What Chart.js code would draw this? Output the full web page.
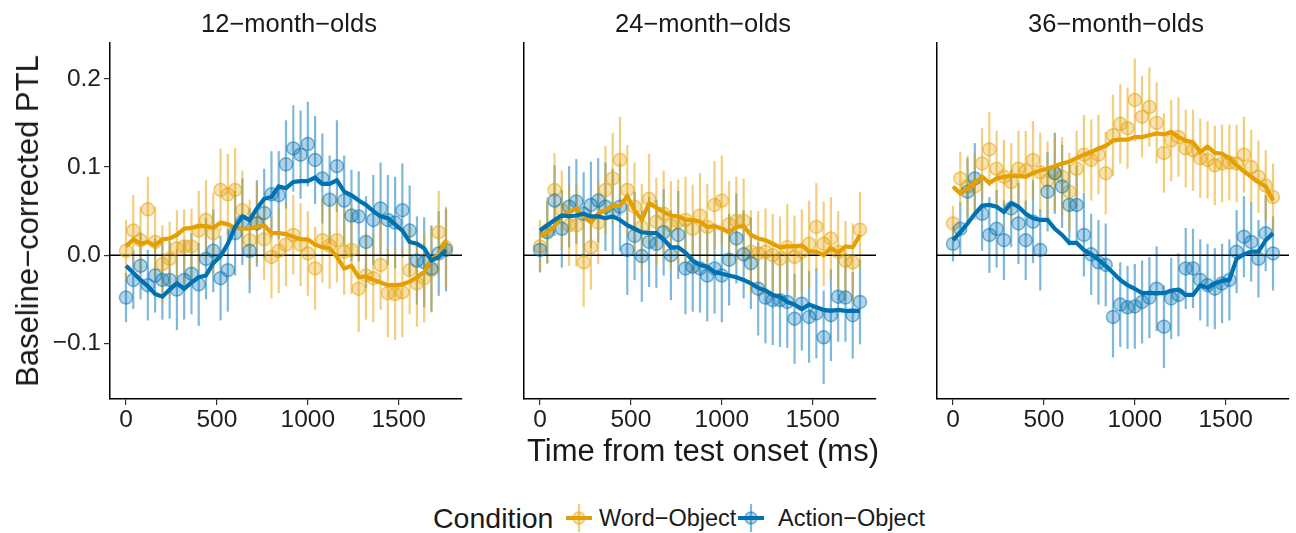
<!DOCTYPE html>
<html>
<head>
<meta charset="utf-8">
<script src="https://cdn.jsdelivr.net/npm/chart.js@4.4.1/dist/chart.umd.min.js"></script>
<style>
  body {
    margin: 0;
    background: #fff;
    width: 1296px;
    height: 533px;
    position: relative;
    overflow: hidden;
    font-family: "Liberation Sans", Arial, Helvetica, sans-serif;
    color: #1a1a1a;
  }
  canvas.panel { position: absolute; top: 0; }
  .strip {
    position: absolute; top: 8px; line-height: 30px;
    font-size: 25.5px; transform: translateX(-50%); white-space: nowrap;
  }
  .xtitle {
    position: absolute; left: 703px; top: 433px; line-height: 36px;
    font-size: 31px; transform: translateX(-50%); white-space: nowrap;
  }
  .ytitle {
    position: absolute; left: 28px; top: 221px; line-height: 36px;
    font-size: 31px; white-space: nowrap;
    transform: translate(-50%, -50%) rotate(-90deg);
  }
  .legend-title { position: absolute; left: 433px; top: 501px; font-size: 28.5px; line-height: 34px; }
  .legend-text { position: absolute; top: 503px; font-size: 23.5px; line-height: 30px; white-space: nowrap; }
  .legend-key { position: absolute; top: 503px; }
</style>
</head>
<body>

<canvas id="p12" class="panel" width="470" height="440" style="left:0px"></canvas>
<canvas id="p24" class="panel" width="470" height="440" style="left:414px"></canvas>
<canvas id="p36" class="panel" width="470" height="440" style="left:827px"></canvas>

<div class="strip" style="left:289px">12−month−olds</div>
<div class="strip" style="left:703px">24−month−olds</div>
<div class="strip" style="left:1116px">36−month−olds</div>

<div class="ytitle">Baseline−corrected PTL</div>
<div class="xtitle">Time from test onset (ms)</div>

<div class="legend-title">Condition</div>
<svg class="legend-key" style="left:566px" width="26" height="30">
  <line x1="13" y1="1" x2="13" y2="29" stroke="rgba(230,159,0,0.5)" stroke-width="2.2"/>
  <circle cx="13" cy="15" r="6" fill="rgba(230,159,0,0.3)" stroke="rgba(230,159,0,0.5)" stroke-width="1.5"/>
  <line x1="0" y1="15" x2="26" y2="15" stroke="#E69F00" stroke-width="4"/>
</svg>
<div class="legend-text" style="left:599px">Word−Object</div>
<svg class="legend-key" style="left:738px" width="26" height="30">
  <line x1="13" y1="1" x2="13" y2="29" stroke="rgba(0,114,178,0.5)" stroke-width="2.2"/>
  <circle cx="13" cy="15" r="6" fill="rgba(0,114,178,0.3)" stroke="rgba(0,114,178,0.5)" stroke-width="1.5"/>
  <line x1="0" y1="15" x2="26" y2="15" stroke="#0072B2" stroke-width="4"/>
</svg>
<div class="legend-text" style="left:778px">Action−Object</div>

<script>
// time bins (ms)
const times = [0, 40, 80, 120, 160, 200, 240, 280, 320, 360, 400, 440, 480, 520, 560,
  600, 640, 680, 720, 760, 800, 840, 880, 920, 960, 1000, 1040, 1080, 1120, 1160,
  1200, 1240, 1280, 1320, 1360, 1400, 1440, 1480, 1520, 1560, 1600, 1640, 1680, 1720, 1760];

const xTicks = [0, 500, 1000, 1500];
const yTicks = [-0.1, 0.0, 0.1, 0.2];

//
// ===== 12-MONTH-OLDS =====
//
const word12 = [0.005, 0.028, 0.017, 0.052, 0.015, -0.010, -0.004, 0.008, 0.010, 0.010,
  0.028, 0.040, 0.025, 0.074, 0.069, 0.074, 0.051, 0.017, 0.037, 0.018,
  -0.002, 0.005, 0.012, 0.023, 0.012, 0.002, -0.015, 0.017, 0.011, 0.017,
  0.004, 0.006, -0.038, -0.023, -0.026, -0.011, -0.043, -0.044, -0.042, -0.017,
  -0.032, -0.026, -0.017, 0.026, 0.009];
const word12Err = [0.035, 0.040, 0.038, 0.037, 0.040, 0.044, 0.042, 0.043, 0.042, 0.043,
  0.045, 0.045, 0.046, 0.047, 0.046, 0.048, 0.045, 0.046, 0.045, 0.046,
  0.047, 0.048, 0.047, 0.045, 0.047, 0.048, 0.047, 0.048, 0.049, 0.048,
  0.049, 0.050, 0.049, 0.050, 0.050, 0.051, 0.050, 0.052, 0.051, 0.050,
  0.049, 0.050, 0.048, 0.047, 0.046];
const action12 = [-0.048, -0.028, -0.012, -0.034, -0.023, -0.028, -0.028, -0.039, -0.028, -0.021,
  -0.033, -0.004, 0.005, -0.026, -0.017, 0.025, 0.038, 0.005, 0.036, 0.048,
  0.069, 0.068, 0.103, 0.121, 0.114, 0.126, 0.108, 0.087, 0.063, 0.101,
  0.062, 0.045, 0.044, 0.015, 0.040, 0.053, 0.040, 0.037, 0.051, 0.028,
  -0.006, -0.008, -0.015, 0.002, 0.006];
const action12Err = [0.028, 0.033, 0.038, 0.040, 0.042, 0.045, 0.044, 0.046, 0.045, 0.046,
  0.047, 0.046, 0.047, 0.048, 0.047, 0.048, 0.049, 0.048, 0.049, 0.050,
  0.049, 0.050, 0.050, 0.049, 0.050, 0.048, 0.050, 0.051, 0.050, 0.052,
  0.051, 0.052, 0.051, 0.052, 0.051, 0.052, 0.051, 0.052, 0.053, 0.051,
  0.050, 0.051, 0.049, 0.048, 0.047];
const wordSmooth12 = [0.010, 0.018, 0.013, 0.015, 0.011, 0.018, 0.019, 0.023, 0.030, 0.031,
  0.033, 0.033, 0.031, 0.037, 0.035, 0.031, 0.030, 0.030, 0.032, 0.034,
  0.025, 0.025, 0.024, 0.021, 0.018, 0.018, 0.012, 0.009, 0.008, -0.002,
  -0.015, -0.012, -0.025, -0.024, -0.028, -0.031, -0.034, -0.034, -0.033, -0.030,
  -0.025, -0.019, -0.004, 0.000, 0.017];
const actionSmooth12 = [-0.012, -0.020, -0.028, -0.035, -0.044, -0.047, -0.039, -0.032, -0.038, -0.031,
  -0.025, -0.023, -0.009, -0.001, 0.013, 0.032, 0.044, 0.040, 0.053, 0.064,
  0.066, 0.078, 0.076, 0.083, 0.084, 0.084, 0.088, 0.081, 0.081, 0.085,
  0.072, 0.068, 0.062, 0.057, 0.050, 0.044, 0.042, 0.035, 0.028, 0.015,
  0.013, 0.008, -0.006, -0.002, 0.006];

//
// ===== 24-MONTH-OLDS =====
//
const word24 = [0.010, 0.028, 0.074, 0.051, 0.034, 0.034, -0.008, 0.009, 0.037, 0.074,
  0.087, 0.108, 0.074, 0.055, 0.032, 0.064, 0.038, 0.047, 0.034, 0.038,
  0.040, 0.030, 0.045, 0.032, 0.057, 0.062, 0.035, 0.039, 0.039, 0.004,
  0.002, 0.004, 0.000, -0.004, 0.009, -0.002, 0.004, 0.013, 0.032, 0.013,
  0.019, 0.004, -0.006, -0.008, 0.029];
const word24Err = [0.030, 0.038, 0.042, 0.045, 0.046, 0.047, 0.051, 0.048, 0.047, 0.050,
  0.052, 0.049, 0.051, 0.050, 0.049, 0.051, 0.050, 0.049, 0.050, 0.048,
  0.049, 0.050, 0.048, 0.049, 0.050, 0.051, 0.049, 0.050, 0.048, 0.047,
  0.048, 0.049, 0.047, 0.048, 0.049, 0.047, 0.048, 0.049, 0.050, 0.048,
  0.047, 0.046, 0.045, 0.044, 0.043];
const action24 = [0.006, 0.026, 0.062, 0.030, 0.055, 0.061, 0.047, 0.057, 0.062, 0.055,
  0.049, 0.055, 0.006, 0.022, -0.001, 0.015, 0.013, 0.026, 0.000, 0.023,
  -0.015, -0.013, -0.015, -0.023, -0.015, -0.023, -0.005, 0.019, 0.001, -0.009,
  -0.038, -0.048, -0.051, -0.051, -0.053, -0.072, -0.055, -0.070, -0.066, -0.093,
  -0.068, -0.047, -0.048, -0.068, -0.053];
const action24Err = [0.025, 0.035, 0.040, 0.044, 0.046, 0.048, 0.047, 0.049, 0.048, 0.050,
  0.049, 0.050, 0.051, 0.050, 0.052, 0.051, 0.050, 0.049, 0.051, 0.050,
  0.052, 0.051, 0.050, 0.052, 0.051, 0.053, 0.052, 0.051, 0.050, 0.052,
  0.053, 0.052, 0.051, 0.053, 0.052, 0.051, 0.053, 0.052, 0.051, 0.053,
  0.052, 0.051, 0.050, 0.049, 0.048];
const wordSmooth24 = [0.022, 0.026, 0.033, 0.044, 0.049, 0.053, 0.044, 0.037, 0.047, 0.051,
  0.056, 0.056, 0.067, 0.051, 0.040, 0.059, 0.054, 0.049, 0.045, 0.044,
  0.040, 0.040, 0.038, 0.032, 0.033, 0.030, 0.026, 0.032, 0.033, 0.023,
  0.019, 0.017, 0.013, 0.009, 0.010, 0.010, 0.011, 0.004, 0.004, 0.000,
  0.008, 0.003, 0.010, 0.009, 0.023];
const actionSmooth24 = [0.028, 0.034, 0.040, 0.045, 0.044, 0.045, 0.047, 0.044, 0.044, 0.042,
  0.044, 0.040, 0.034, 0.030, 0.026, 0.025, 0.025, 0.018, 0.009, 0.009,
  0.003, -0.006, -0.011, -0.013, -0.019, -0.021, -0.023, -0.025, -0.028, -0.032,
  -0.037, -0.040, -0.045, -0.047, -0.053, -0.056, -0.061, -0.056, -0.059, -0.062,
  -0.063, -0.062, -0.063, -0.063, -0.063];

//
// ===== 36-MONTH-OLDS =====
//
const word36 = [0.036, 0.087, 0.078, 0.078, 0.104, 0.120, 0.098, 0.089, 0.083, 0.098,
  0.096, 0.108, 0.094, 0.085, 0.093, 0.089, 0.072, 0.098, 0.114, 0.108,
  0.114, 0.093, 0.136, 0.149, 0.144, 0.176, 0.157, 0.168, 0.150, 0.116,
  0.130, 0.134, 0.121, 0.119, 0.110, 0.108, 0.102, 0.104, 0.105, 0.104,
  0.114, 0.100, 0.089, 0.079, 0.066];
const word36Err = [0.020, 0.030, 0.035, 0.038, 0.040, 0.042, 0.043, 0.042, 0.044, 0.043,
  0.045, 0.044, 0.045, 0.044, 0.043, 0.045, 0.044, 0.043, 0.045, 0.046,
  0.045, 0.047, 0.046, 0.045, 0.046, 0.047, 0.046, 0.045, 0.046, 0.045,
  0.046, 0.045, 0.044, 0.046, 0.045, 0.044, 0.045, 0.044, 0.043, 0.044,
  0.043, 0.042, 0.041, 0.040, 0.038];
const action36 = [0.013, 0.030, 0.072, 0.087, 0.047, 0.023, 0.030, 0.017, 0.053, 0.036,
  0.017, 0.038, 0.006, 0.072, 0.093, 0.078, 0.057, 0.057, 0.023, 0.001,
  -0.008, -0.011, -0.070, -0.056, -0.059, -0.058, -0.053, -0.048, -0.038, -0.081,
  -0.049, -0.045, -0.015, -0.015, -0.028, -0.034, -0.038, -0.032, -0.028, 0.004,
  0.021, 0.015, -0.004, 0.025, 0.002];
const action36Err = [0.020, 0.030, 0.038, 0.040, 0.042, 0.043, 0.044, 0.045, 0.044, 0.046,
  0.045, 0.047, 0.046, 0.045, 0.046, 0.047, 0.046, 0.045, 0.047, 0.046,
  0.048, 0.047, 0.046, 0.048, 0.047, 0.048, 0.047, 0.046, 0.048, 0.047,
  0.046, 0.047, 0.046, 0.045, 0.046, 0.047, 0.046, 0.045, 0.046, 0.047,
  0.046, 0.045, 0.044, 0.043, 0.042];
const wordSmooth36 = [0.078, 0.070, 0.076, 0.082, 0.089, 0.082, 0.087, 0.089, 0.090, 0.090,
  0.089, 0.093, 0.096, 0.098, 0.101, 0.104, 0.106, 0.110, 0.114, 0.117,
  0.121, 0.124, 0.130, 0.131, 0.131, 0.134, 0.134, 0.136, 0.138, 0.137,
  0.140, 0.134, 0.130, 0.128, 0.117, 0.123, 0.116, 0.115, 0.110, 0.102,
  0.095, 0.089, 0.083, 0.078, 0.062];
const actionSmooth36 = [0.017, 0.026, 0.036, 0.047, 0.056, 0.057, 0.055, 0.049, 0.059, 0.055,
  0.047, 0.042, 0.040, 0.040, 0.030, 0.023, 0.014, 0.014, 0.006, 0.001,
  -0.005, -0.012, -0.020, -0.028, -0.034, -0.038, -0.043, -0.043, -0.043, -0.043,
  -0.040, -0.039, -0.045, -0.045, -0.034, -0.037, -0.032, -0.029, -0.028, -0.004,
  0.001, 0.004, 0.004, 0.017, 0.025];

const ORANGE = "#E69F00";
const BLUE = "#0072B2";
const ORANGE_A = "rgba(230,159,0,0.5)";
const BLUE_A = "rgba(0,114,178,0.5)";

// error bars + zero line, drawn under the points
const errorBars = {
  id: "errorBars",
  beforeDatasetsDraw(chart) {
    const { ctx, chartArea } = chart;
    const x = chart.scales.x;
    const y = chart.scales.y;
    ctx.save();
    ctx.lineWidth = 2.2;
    chart.data.datasets.forEach(ds => {
      if (!ds.errs) return;
      ctx.strokeStyle = ds.barColor;
      ds.data.forEach((p, i) => {
        const px = x.getPixelForValue(p.x);
        ctx.beginPath();
        ctx.moveTo(px, y.getPixelForValue(p.y - ds.errs[i]));
        ctx.lineTo(px, y.getPixelForValue(p.y + ds.errs[i]));
        ctx.stroke();
      });
    });
    const y0 = y.getPixelForValue(0);
    ctx.strokeStyle = "#000";
    ctx.lineWidth = 1.6;
    ctx.beginPath();
    ctx.moveTo(chartArea.left, y0);
    ctx.lineTo(chartArea.right, y0);
    ctx.stroke();
    ctx.restore();
  }
};

function toXY(values) {
  return times.map((t, i) => ({ x: t, y: values[i] }));
}

function fmtY(v) {
  if (Math.abs(v) < 1e-9) return "0.0";
  return (v < 0 ? "\u2212" : "") + Math.abs(v).toFixed(1);
}

function renderPanel(canvasId, word, wordErr, action, actionErr, wordSmooth, actionSmooth, showY) {
  const ctx = document.getElementById(canvasId);

  new Chart(ctx, {
    type: "scatter",
    data: {
      datasets: [
        {
          type: "line",
          data: toXY(actionSmooth),
          borderColor: BLUE,
          borderWidth: 4.2,
          pointRadius: 0,
          tension: 0,
          order: 0
        },
        {
          type: "line",
          data: toXY(wordSmooth),
          borderColor: ORANGE,
          borderWidth: 4.2,
          pointRadius: 0,
          tension: 0,
          order: 0
        },
        {
          data: toXY(action),
          errs: actionErr,
          barColor: BLUE_A,
          pointRadius: 6.5,
          backgroundColor: "rgba(0,114,178,0.3)",
          borderColor: "rgba(0,114,178,0.5)",
          borderWidth: 1.5,
          order: 1
        },
        {
          data: toXY(word),
          errs: wordErr,
          barColor: ORANGE_A,
          pointRadius: 6.5,
          backgroundColor: "rgba(230,159,0,0.3)",
          borderColor: "rgba(230,159,0,0.5)",
          borderWidth: 1.5,
          order: 2
        }
      ]
    },
    options: {
      responsive: false,
      animation: false,
      devicePixelRatio: 1,
      layout: { padding: { top: 43, right: 3, bottom: 0, left: 0 } },
      plugins: { legend: { display: false }, tooltip: { enabled: false } },
      scales: {
        x: {
          type: "linear",
          min: -88,
          max: 1848,
          afterFit: s => { s.height = 41; },
          afterBuildTicks: s => { s.ticks = xTicks.map(v => ({ value: v })); },
          ticks: {
            autoSkip: false,
            maxRotation: 0,
            padding: 1,
            color: "#1f1f1f",
            font: { family: "Liberation Sans", size: 24.5 },
            callback: v => String(v)
          },
          grid: { drawOnChartArea: false, drawTicks: true, tickLength: 6, color: "#333", lineWidth: 1.2 },
          border: { display: true, color: "#000", width: 1.5 }
        },
        y: {
          min: -0.163,
          max: 0.2406,
          afterFit: s => { s.width = 110; },
          afterBuildTicks: s => { s.ticks = yTicks.map(v => ({ value: v })); },
          ticks: {
            display: showY,
            padding: 3,
            color: "#1f1f1f",
            font: { family: "Liberation Sans", size: 24.5 },
            callback: fmtY
          },
          grid: { drawOnChartArea: false, drawTicks: showY, tickLength: 6, color: "#333", lineWidth: 1.2 },
          border: { display: true, color: "#000", width: 1.5 }
        }
      }
    },
    plugins: [errorBars]
  });
}

renderPanel("p12", word12, word12Err, action12, action12Err, wordSmooth12, actionSmooth12, true);
renderPanel("p24", word24, word24Err, action24, action24Err, wordSmooth24, actionSmooth24, false);
renderPanel("p36", word36, word36Err, action36, action36Err, wordSmooth36, actionSmooth36, false);
</script>
</body>
</html>
